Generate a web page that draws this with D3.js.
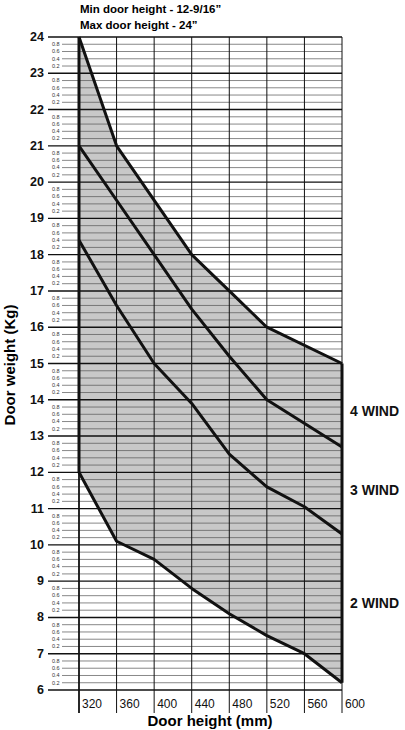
<!DOCTYPE html><html><head><meta charset="utf-8">
<script src="https://cdn.jsdelivr.net/npm/d3@7"></script>
<style>body{margin:0;background:#fff}text{font-family:"Liberation Sans",Arial,sans-serif}</style></head><body>
<svg id="c" width="405" height="730"></svg>
<script>
const xTicks=[320,360,400,440,480,520,560,600];
const yMajor=[6,7,8,9,10,11,12,13,14,15,16,17,18,19,20,21,22,23,24];
const minorLabels=["0.8","0.6","0.4","0.2"];
const topX=[320,360,440,480,520,600], topY=[24,21,18,17,16,15];
const w4X=[320,360,400,440,480,520,600], w4Y=[21,19.5,18,16.5,15.2,14,12.7];
const w3X=[320,360,400,440,480,520,560,600], w3Y=[18.4,16.6,15,13.9,12.5,11.6,11.05,10.3];
const botX=[320,360,400,440,480,520,560,600], botY=[12,10.1,9.6,8.8,8.1,7.5,7.0,6.2];
const windLabels=[{t:"4 WIND",v:13.7},{t:"3 WIND",v:11.5},{t:"2 WIND",v:8.4}];

const svg=d3.select("#c");
const x=d3.scaleLinear().domain([320,600]).range([79,342]);
const y=d3.scaleLinear().domain([6,24]).range([690,37]);
const pts=(X,Y)=>X.map((v,i)=>[x(v),y(Y[i])]);
const line=d3.line();
// shaded area
const poly=pts(topX,topY).concat(pts(botX,botY).reverse());
svg.append("path").attr("d",line(poly)+"Z").attr("fill","#c8c8c8");
// minor lines
for(let k=6;k<24;k++){for(let j=1;j<5;j++){const v=k+j*0.2;
 svg.append("line").attr("x1",62).attr("x2",x(600)).attr("y1",y(v)).attr("y2",y(v)).attr("stroke","#555").attr("stroke-width",0.7);
 svg.append("text").attr("x",52).attr("y",y(v)+1.8).attr("font-size",5.5).attr("fill","#333").text(minorLabels[4-j]);}}
// major lines
yMajor.forEach(v=>{svg.append("line").attr("x1",48).attr("x2",x(600)).attr("y1",y(v)).attr("y2",y(v)).attr("stroke","#111").attr("stroke-width",1.4);
 svg.append("text").attr("x",44).attr("y",y(v)+4).attr("text-anchor","end").attr("font-size",12.5).attr("font-weight","bold").attr("fill","#111").text(v);});
// verticals
xTicks.forEach(v=>{svg.append("line").attr("x1",x(v)).attr("x2",x(v)).attr("y1",y(24)).attr("y2",713).attr("stroke","#111").attr("stroke-width",v===320?1.8:1);
 svg.append("text").attr("x",x(v)+3).attr("y",708).attr("font-size",12).attr("fill","#111").text(v);});
// thick lines
const st=p=>svg.append("path").attr("d",line(p)).attr("fill","none").attr("stroke","#111").attr("stroke-width",3).attr("stroke-linejoin","round");
st(pts(topX,topY));st(pts(w4X,w4Y));st(pts(w3X,w3Y));st(pts(botX,botY));
st([[x(320),y(24)],[x(320),y(12)]]);st([[x(600),y(15)],[x(600),y(6.2)]]);
windLabels.forEach(d=>svg.append("text").attr("x",350).attr("y",y(d.v)+5).attr("font-size",14).attr("font-weight","bold").attr("fill","#111").text(d.t));
svg.append("text").attr("x",80).attr("y",13).attr("font-size",11.5).attr("font-weight","bold").text("Min door height - 12-9/16\u201d");
svg.append("text").attr("x",80).attr("y",29).attr("font-size",11.5).attr("font-weight","bold").text("Max door height - 24\u201d");
svg.append("text").attr("x",210).attr("y",726).attr("text-anchor","middle").attr("font-size",15).attr("font-weight","bold").text("Door height (mm)");
svg.append("text").attr("transform","translate(15,365) rotate(-90)").attr("text-anchor","middle").attr("font-size",15).attr("font-weight","bold").text("Door weight (Kg)");
</script></body></html>
